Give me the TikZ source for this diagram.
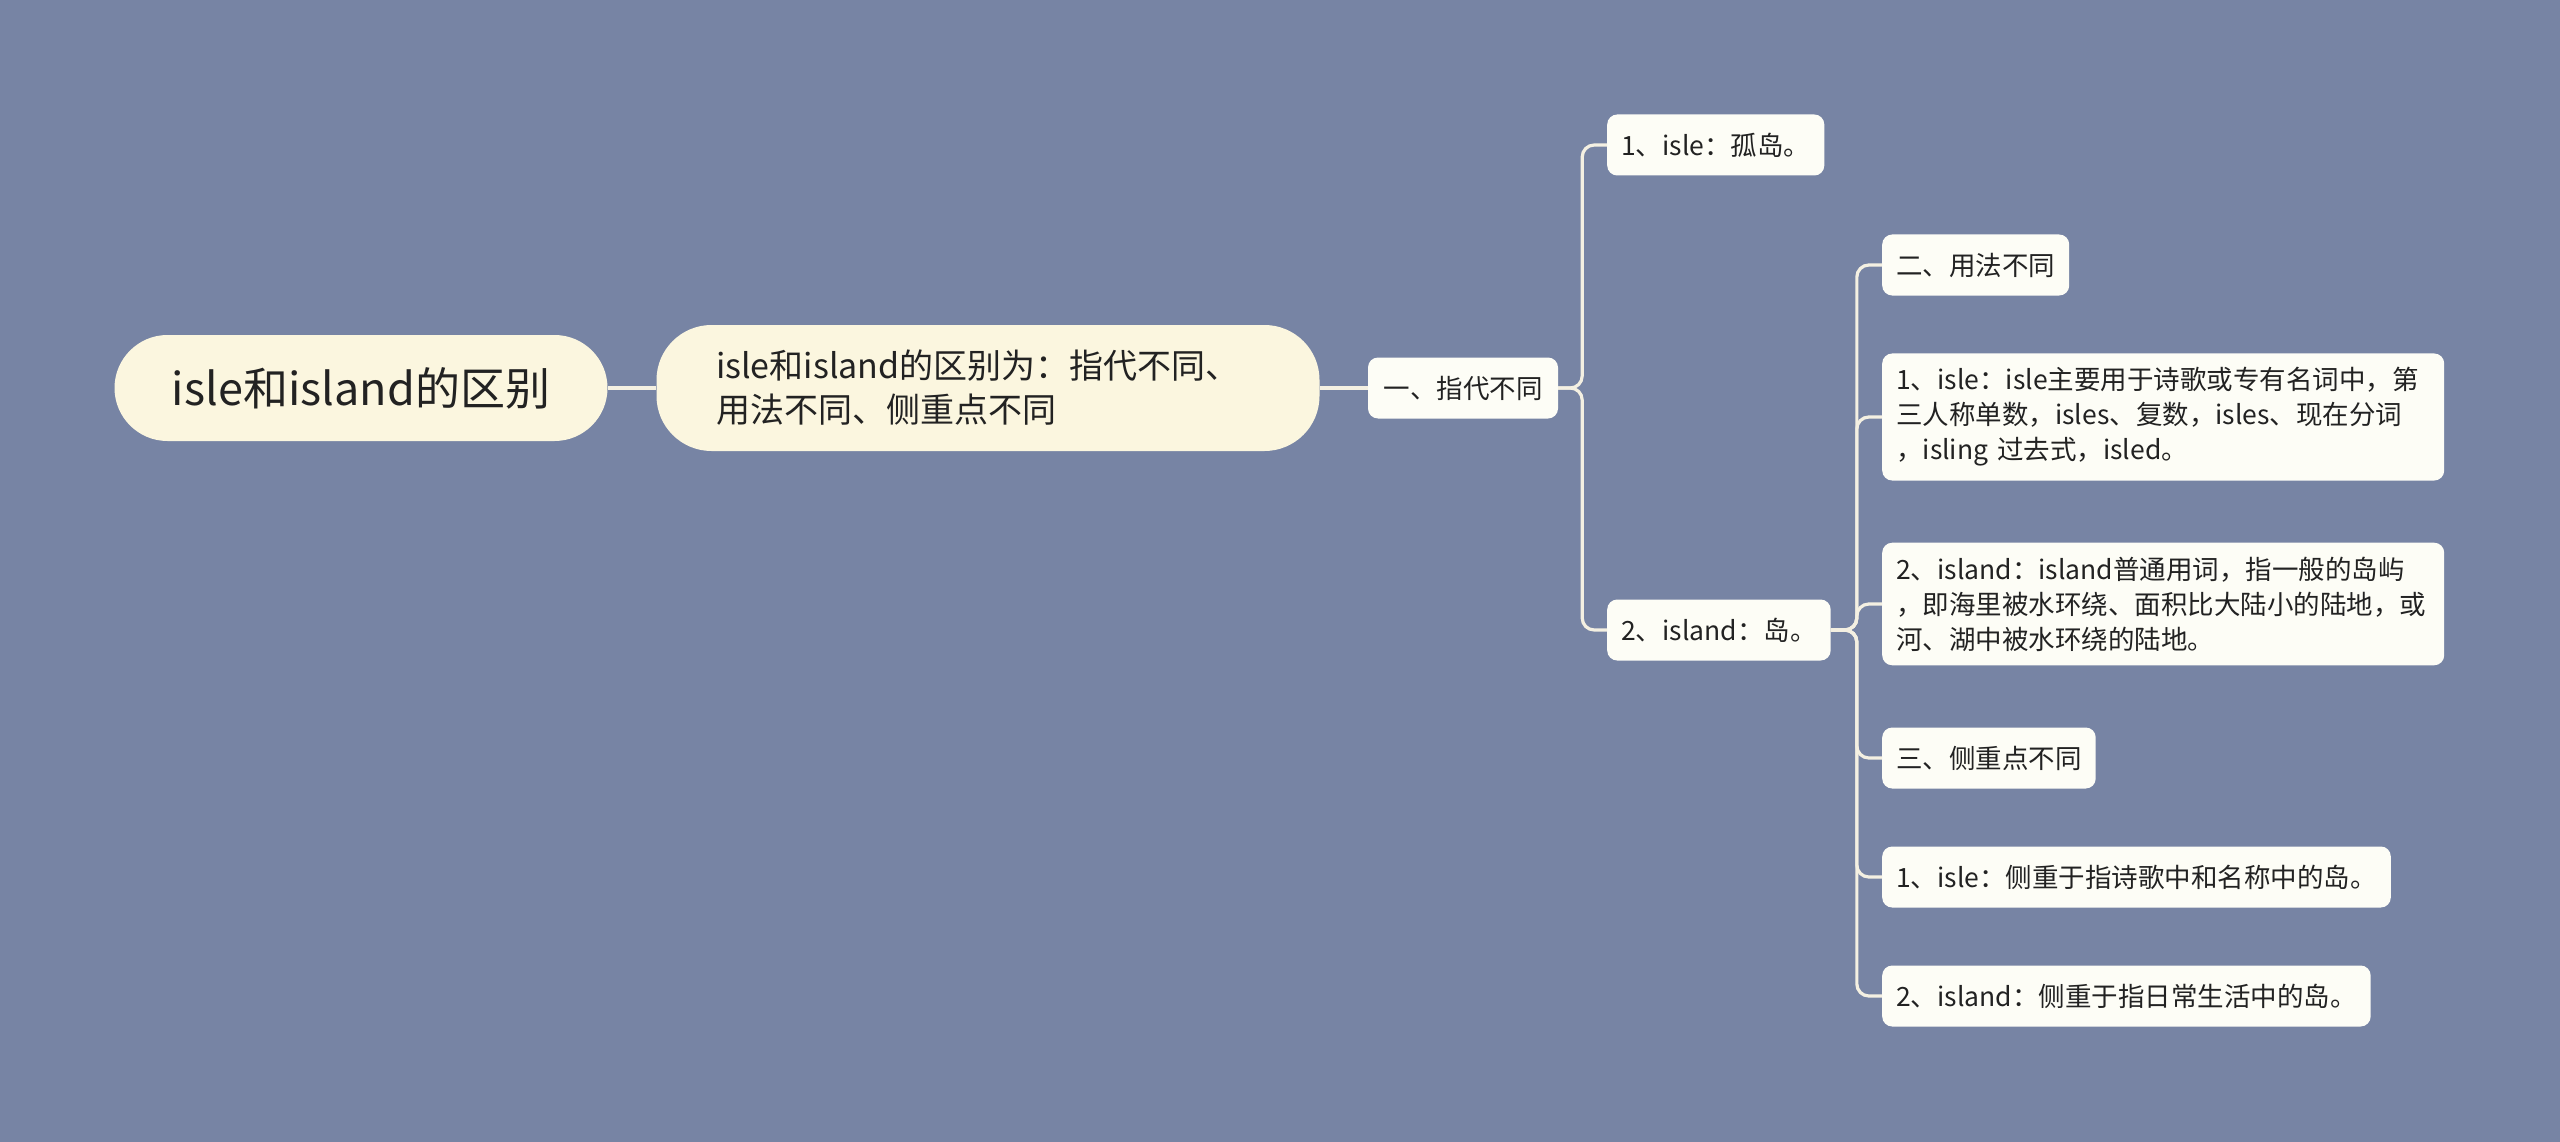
\documentclass[tikz,border=0pt]{standalone}
\usepackage{fontspec}
\setmainfont{Noto Sans CJK SC}
\definecolor{bg}{HTML}{7784A4}
\definecolor{cream}{HTML}{FBF6DF}
\definecolor{leaf}{HTML}{FDFDF6}
\definecolor{wire}{HTML}{F4F0E2}
\definecolor{ink}{HTML}{222222}
\tikzset{
  rootbox/.style={draw=none, fill=cream, text=ink, rounded corners=53, minimum width=493, minimum height=106, font=\fontsize{45}{52}\selectfont},
  mainbox/.style={draw=none, fill=cream, text=ink, rounded corners=55, text width=544, inner xsep=59.5, minimum height=126, align=left, font=\fontsize{34}{44}\selectfont},
  leafbox/.style={draw=none, fill=leaf, text=ink, rounded corners=10, inner xsep=14, inner ysep=8, minimum height=61, align=left, font=\fontsize{26.5}{35}\selectfont},
  multibox/.style={leafbox, text width=534, inner ysep=14},
  wirestyle/.style={draw=wire, line width=3.2, rounded corners=12}
}
\begin{document}
\begin{tikzpicture}[x=1pt,y=-1pt]
\useasboundingbox (0,0) rectangle (2560,1142);
\fill[bg] (0,0) rectangle (2560,1142);

\node[rootbox] (root) at (361,388) {isle和island的区别};
\node[mainbox] (main) at (988,388) {isle和island的区别为：指代不同、\\用法不同、侧重点不同};
\node[leafbox, inner xsep=0, minimum width=190] (zd) at (1463,388) {一、指代不同};

\node[leafbox, anchor=west] (a1) at (1607,145) {1、isle：孤岛。};
\node[leafbox, anchor=west] (a2) at (1607,630) {2、island：岛。};

\node[leafbox, anchor=west] (b1) at (1882,265) {二、用法不同};
\node[multibox, anchor=west] (b2) at (1882,417) {1、isle：isle主要用于诗歌或专有名词中，第\\三人称单数，isles、复数，isles、现在分词\\，isling 过去式，isled。};
\node[multibox, anchor=west] (b3) at (1882,604) {2、island：island普通用词，指一般的岛屿\\，即海里被水环绕、面积比大陆小的陆地，或\\河、湖中被水环绕的陆地。};
\node[leafbox, anchor=west] (b4) at (1882,758) {三、侧重点不同};
\node[leafbox, anchor=west] (b5) at (1882,877) {1、isle：侧重于指诗歌中和名称中的岛。};
\node[leafbox, anchor=west] (b6) at (1882,996) {2、island：侧重于指日常生活中的岛。};

\draw[wirestyle] (root.east) -- (main.west);
\draw[wirestyle] (main.east) -- (zd.west);
\foreach \c in {a1,a2}
  \draw[wirestyle] (zd.east) -- ([xshift=24]zd.east) |- (\c.west);
\foreach \c in {b1,b2,b3,b4,b5,b6}
  \draw[wirestyle] (a2.east) -- ([xshift=26]a2.east) |- (\c.west);
\end{tikzpicture}
\end{document}
